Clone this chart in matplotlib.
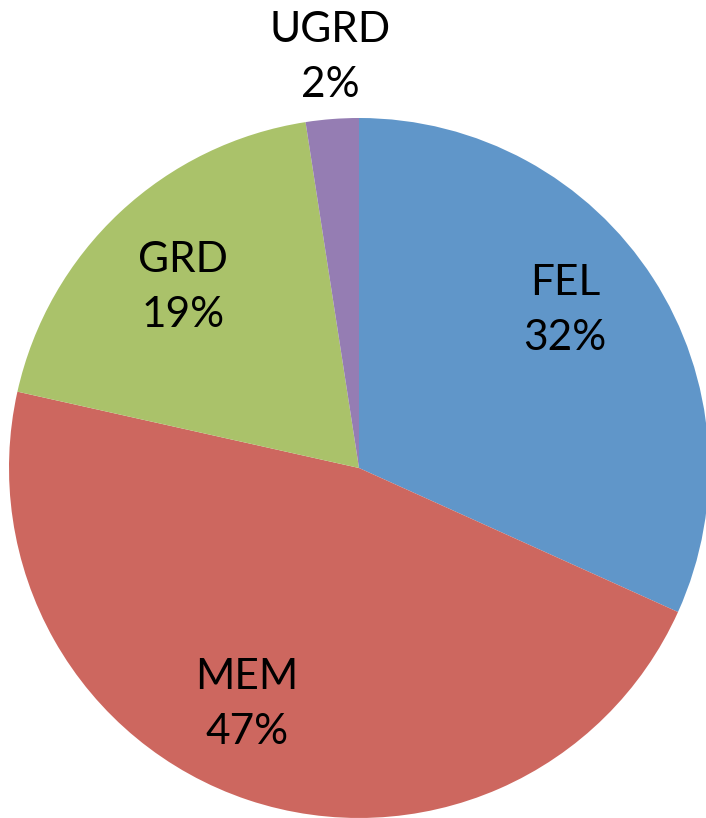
import matplotlib
matplotlib.use("Agg")
import matplotlib.pyplot as plt

categories = ["FEL", "MEM", "GRD", "UGRD"]
values = [31.75, 46.75, 19.06, 2.44]
pct_labels = ["32%", "47%", "19%", "2%"]
colors = ["#6096C9", "#CD675F", "#AAC26A", "#957DB3"]

# label centers in axis units (pie radius = 1)
label_pos = [(0.589, 0.451), (-0.32, -0.677), (-0.503, 0.517), (-0.083, 1.174)]

fig = plt.figure(figsize=(7.06, 8.18), dpi=100)
ax = fig.add_axes([9 / 706, 0, 700 / 706, 700 / 818])
ax.pie(values, colors=colors, startangle=90, counterclock=False, radius=1,
       wedgeprops=dict(linewidth=0))
for cat, pct, (x, y) in zip(categories, pct_labels, label_pos):
    ax.text(x, y, f"{cat}\n{pct}", ha="center", va="center", fontsize=30.5,
            family="Lato", linespacing=1.55, color="black")
ax.set_xlim(-1, 1)
ax.set_ylim(-1, 1)
ax.set_aspect("equal")
ax.axis("off")
fig.savefig("out.png", dpi=100)
